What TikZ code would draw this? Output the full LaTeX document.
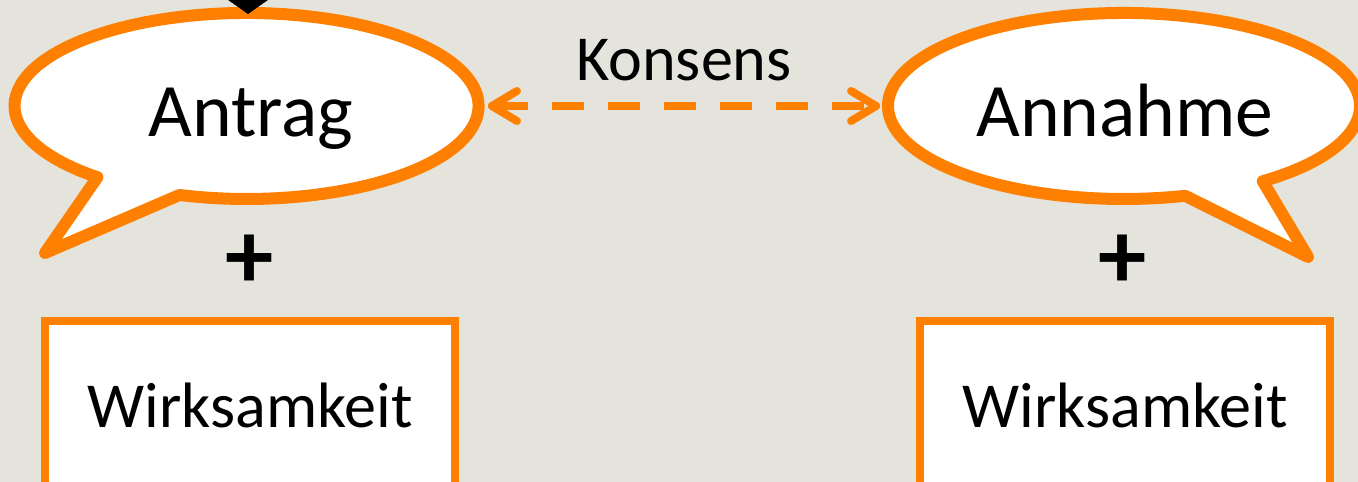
\documentclass[tikz,border=0pt]{standalone}
\usepackage{fontspec}
\setmainfont{Carlito}
\usetikzlibrary{arrows.meta,shapes.geometric}

\definecolor{orng}{RGB}{255,128,0}
\definecolor{paper}{RGB}{229,228,220}

\begin{document}
\begin{tikzpicture}[x=0.02cm,y=-0.02cm,
  bubble/.style={draw=orng,fill=white,line width=0.24cm,line join=round},
  spot/.style={ellipse,inner sep=0pt,outer sep=0.08cm},
  say/.style={font=\fontsize{43}{50}\selectfont,anchor=base},
  frame/.style={draw=orng,fill=white,line width=0.16cm,minimum width=8.2cm,
    minimum height=3.38cm,font=\fontsize{36.5}{42}\selectfont},
  plus/.style={font=\fontsize{55}{60}\selectfont\bfseries},
  konsens/.style={draw=orng,dashed,line width=0.16cm,dash pattern=on 0.64cm off 0.48cm,
    {Straight Barb[round,length=0.5cm,width=0.6cm]}-{Straight Barb[round,length=0.5cm,width=0.6cm]}}]
\useasboundingbox (0,0) rectangle (1358,482);
\clip (0,0) rectangle (1358,482);
\fill[paper] (0,0) rectangle (1358,482);

% speech bubbles
\filldraw[bubble] (179.5,195) arc[start angle=106.8,end angle=-230,x radius=232,y radius=93]
  -- (45,253) -- cycle;
\filldraw[bubble] (1185.1,195.8) arc[start angle=75,end angle=414,x radius=236,y radius=93]
  -- (1308,257) -- cycle;

\node[spot,minimum width=9.52cm,minimum height=3.96cm] (antrag) at (246,106) {};
\node[spot,minimum width=9.6cm,minimum height=3.96cm] (annahme) at (1124,106) {};
\node[say] (antragtext) at (251,137) {Antrag};
\node[say] (annahmetext) at (1125,137) {Annahme};

\draw[konsens] (antrag) -- node[anchor=base,yshift=0.5cm,font=\fontsize{36.5}{42}\selectfont] (konsenstext) {Konsens} (annahme);

% incoming arrow from above
\coordinate (feed) at (248,-80);
\coordinate (feedtip) at (248,14);
\draw[line width=0.06cm,-{Triangle[length=0.6cm,width=1.7cm]}] (feed) -- (feedtip);

\node[plus] (plusA) at (250,262) {+};
\node[plus] (plusB) at (1123,262) {+};

\node[frame] (wirkA) at (250,405.5) {Wirksamkeit};
\node[frame] (wirkB) at (1125,405.5) {Wirksamkeit};
\end{tikzpicture}
\end{document}
